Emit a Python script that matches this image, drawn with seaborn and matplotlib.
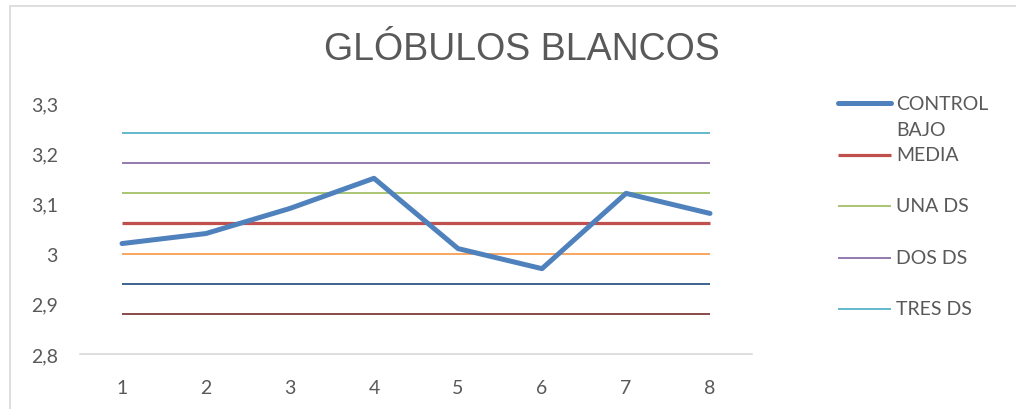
import matplotlib
matplotlib.use("Agg")
import matplotlib.pyplot as plt
import seaborn as sns
import pandas as pd
from matplotlib.lines import Line2D

# ---- data ----
x_vals = [1, 2, 3, 4, 5, 6, 7, 8]
control_bajo = [3.02, 3.04, 3.09, 3.15, 3.01, 2.97, 3.12, 3.08]
media = [3.06] * 8
una_ds = [3.12] * 8
dos_ds = [3.18] * 8
tres_ds = [3.24] * 8
menos_una_ds = [3.00] * 8
menos_dos_ds = [2.94] * 8
menos_tres_ds = [2.88] * 8
y_ticks = [2.8, 2.9, 3.0, 3.1, 3.2, 3.3]
y_tick_labels = ["2,8", "2,9", "3", "3,1", "3,2", "3,3"]
title = "GLÓBULOS BLANCOS"

sns.set_theme(style="white")
plt.rcParams["font.family"] = ["Lato", "DejaVu Sans"]

fig = plt.figure(figsize=(10.16, 4.1), dpi=100)
ax = fig.add_axes([80 / 1016, 1 - 355 / 410, (752 - 80) / 1016, (355 - 104) / 410])

series = [
    ("CONTROL BAJO", control_bajo, "#4F81BD", 3.6),
    ("MEDIA", media, "#C0504D", 2.3),
    ("UNA DS", una_ds, "#9BBB59", 1.2),
    ("DOS DS", dos_ds, "#8064A2", 1.2),
    ("TRES DS", tres_ds, "#4BACC6", 1.2),
    ("-1", menos_una_ds, "#F79646", 1.2),
    ("-2", menos_dos_ds, "#1F497D", 1.2),
    ("-3", menos_tres_ds, "#772C2A", 1.2),
]

order = [5, 6, 7, 2, 3, 4, 1, 0]
for i in order:
    name, vals, color, lw = series[i]
    df = pd.DataFrame({"x": x_vals, "y": vals})
    sns.lineplot(data=df, x="x", y="y", ax=ax, color=color, linewidth=lw,
                 solid_capstyle="round" if i == 0 else "butt", legend=False)

ax.set_xlim(0.5, 8.5)
ax.set_ylim(2.8, 3.3)
ax.set_yticks(y_ticks)
ax.set_yticklabels(y_tick_labels)
ax.set_xticks(x_vals)
ax.set_xticklabels([str(v) for v in x_vals])
ax.set_xlabel("")
ax.set_ylabel("")
ax.tick_params(axis="both", length=0, labelsize=14, labelcolor="#595959")
ax.tick_params(axis="y", pad=16)
ax.tick_params(axis="x", pad=18)
for s in ["top", "right", "left"]:
    ax.spines[s].set_visible(False)
ax.spines["bottom"].set_color("#D9D9D9")
ax.spines["bottom"].set_linewidth(1.2)
ax.set_facecolor("none")

fig.text(522 / 1016, 1 - 50 / 410, title, ha="center", va="center",
         fontsize=27, color="#595959", family=["Liberation Sans", "DejaVu Sans"])

# legend (manual)
leg_items = [
    ("CONTROL\nBAJO", 104, series[0]),
    ("MEDIA", 156, series[1]),
    ("UNA DS", 207, series[2]),
    ("DOS DS", 259, series[3]),
    ("TRES DS", 310, series[4]),
]
for label, ypix, (name, vals, color, lw) in leg_items:
    yf = 1 - ypix / 410
    fig.add_artist(Line2D([838 / 1016, 891 / 1016], [yf, yf], color=color,
                          linewidth=lw, solid_capstyle="round" if lw > 3 else "butt",
                          transform=fig.transFigure))
    if "\n" in label:
        first, second = label.split("\n")
        fig.text(896 / 1016, yf, first, ha="left", va="center",
                 fontsize=14, color="#595959", transform=fig.transFigure)
        fig.text(896 / 1016, 1 - (ypix + 27) / 410, second, ha="left", va="center",
                 fontsize=14, color="#595959", transform=fig.transFigure)
    else:
        fig.text(896 / 1016, yf, label, ha="left", va="center",
                 fontsize=14, color="#595959", transform=fig.transFigure)

# chart border (light gray)
fig.add_artist(Line2D([10 / 1016, 1.0], [1 - 7 / 410, 1 - 7 / 410], color="#D9D9D9",
                      linewidth=1.2, transform=fig.transFigure))
fig.add_artist(Line2D([10 / 1016, 10 / 1016], [0, 1 - 7 / 410], color="#D9D9D9",
                      linewidth=1.2, transform=fig.transFigure))

fig.savefig("out.png", dpi=100, facecolor="white")
